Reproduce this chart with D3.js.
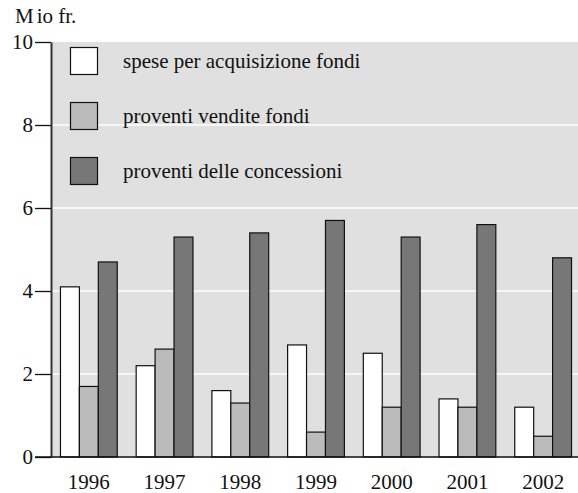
<!DOCTYPE html>
<html>
<head>
<meta charset="utf-8">
<script src="https://cdn.jsdelivr.net/npm/d3@7/dist/d3.min.js"></script>
<style>
  body { margin: 0; background: #fff; }
  svg text { font-family: "Liberation Serif", "Times New Roman", serif; fill: #111; }
</style>
</head>
<body>
<div id="chart"></div>
<script>
const years = ['1996', '1997', '1998', '1999', '2000', '2001', '2002'];
const seriesNames = ['spese per acquisizione fondi', 'proventi vendite fondi', 'proventi delle concessioni'];
const spese     = [4.1, 2.2, 1.6, 2.7, 2.5, 1.4, 1.2];
const vendite   = [1.7, 2.6, 1.3, 0.6, 1.2, 1.2, 0.5];
const concess   = [4.7, 5.3, 5.4, 5.7, 5.3, 5.6, 4.8];
const yTicks    = [0, 2, 4, 6, 8, 10];
const colors    = ['#ffffff', '#bbbbbb', '#777777'];

const width = 578, height = 493;
const margin = { top: 42, right: 0, bottom: 36, left: 51 };
const fontSize = 21;

const svg = d3.select('#chart').append('svg')
  .attr('width', width).attr('height', height);

const x = d3.scaleBand()
  .domain(years)
  .range([margin.left, 581])
  .paddingInner(0.25)
  .paddingOuter(0.125);

const xSub = d3.scaleBand()
  .domain(d3.range(3))
  .range([0, x.bandwidth()]);

const y = d3.scaleLinear()
  .domain([0, 10])
  .range([height - margin.bottom, margin.top]);

// plot background
svg.append('rect')
  .attr('x', margin.left).attr('y', y(10))
  .attr('width', width - margin.left).attr('height', y(0) - y(10))
  .attr('fill', '#e0e0e0');

// white gridlines
svg.append('g').selectAll('line')
  .data(yTicks.filter(t => t > 0 && t < 10))
  .join('line')
  .attr('x1', margin.left).attr('x2', width)
  .attr('y1', d => y(d)).attr('y2', d => y(d))
  .attr('stroke', '#fff').attr('stroke-width', 1.5);

// legend
const legend = svg.append('g');
seriesNames.forEach((name, i) => {
  const ly = 47 + i * 55;
  legend.append('rect')
    .attr('x', 70.5).attr('y', ly + 0.5)
    .attr('width', 27).attr('height', 27)
    .attr('fill', colors[i]).attr('stroke', '#111').attr('stroke-width', 1.2);
  legend.append('text')
    .attr('x', 123).attr('y', ly + 21)
    .attr('font-size', fontSize)
    .text(name);
});

// bars
const rows = years.map((yr, i) => ({ year: yr, values: [spese[i], vendite[i], concess[i]] }));
svg.append('g').selectAll('g')
  .data(rows)
  .join('g')
  .attr('transform', d => `translate(${x(d.year)},0)`)
  .selectAll('rect')
  .data(d => d.values)
  .join('rect')
  .attr('x', (d, i) => xSub(i))
  .attr('y', d => y(d))
  .attr('width', xSub.bandwidth())
  .attr('height', d => y(0) - y(d))
  .attr('fill', (d, i) => colors[i])
  .attr('stroke', '#111').attr('stroke-width', 1.2);

// y axis
const yAxis = svg.append('g')
  .attr('transform', `translate(${margin.left},0)`)
  .call(d3.axisLeft(y).tickValues(yTicks).tickSize(16).tickPadding(2).tickSizeOuter(0));
yAxis.select('.domain').attr('stroke', '#333').attr('stroke-width', 2);
yAxis.selectAll('.tick line').attr('stroke', '#111').attr('stroke-width', 1.3);
yAxis.selectAll('.tick text').attr('font-size', fontSize)
  .attr('font-family', '"Liberation Serif", serif').attr('fill', '#111');

// bottom axis line
svg.append('line')
  .attr('x1', 35).attr('x2', width)
  .attr('y1', y(0)).attr('y2', y(0))
  .attr('stroke', '#111').attr('stroke-width', 1.5);

// year labels
svg.append('g').selectAll('text')
  .data(years)
  .join('text')
  .attr('x', d => x(d) + x.bandwidth() / 2)
  .attr('y', 489)
  .attr('text-anchor', 'middle')
  .attr('font-size', fontSize)
  .text(d => d);

// unit label
const unit = svg.append('text')
  .attr('x', 15).attr('y', 23)
  .attr('font-size', fontSize);
unit.append('tspan').text('M');
unit.append('tspan').attr('dx', 3).text('io fr.');
</script>
</body>
</html>
